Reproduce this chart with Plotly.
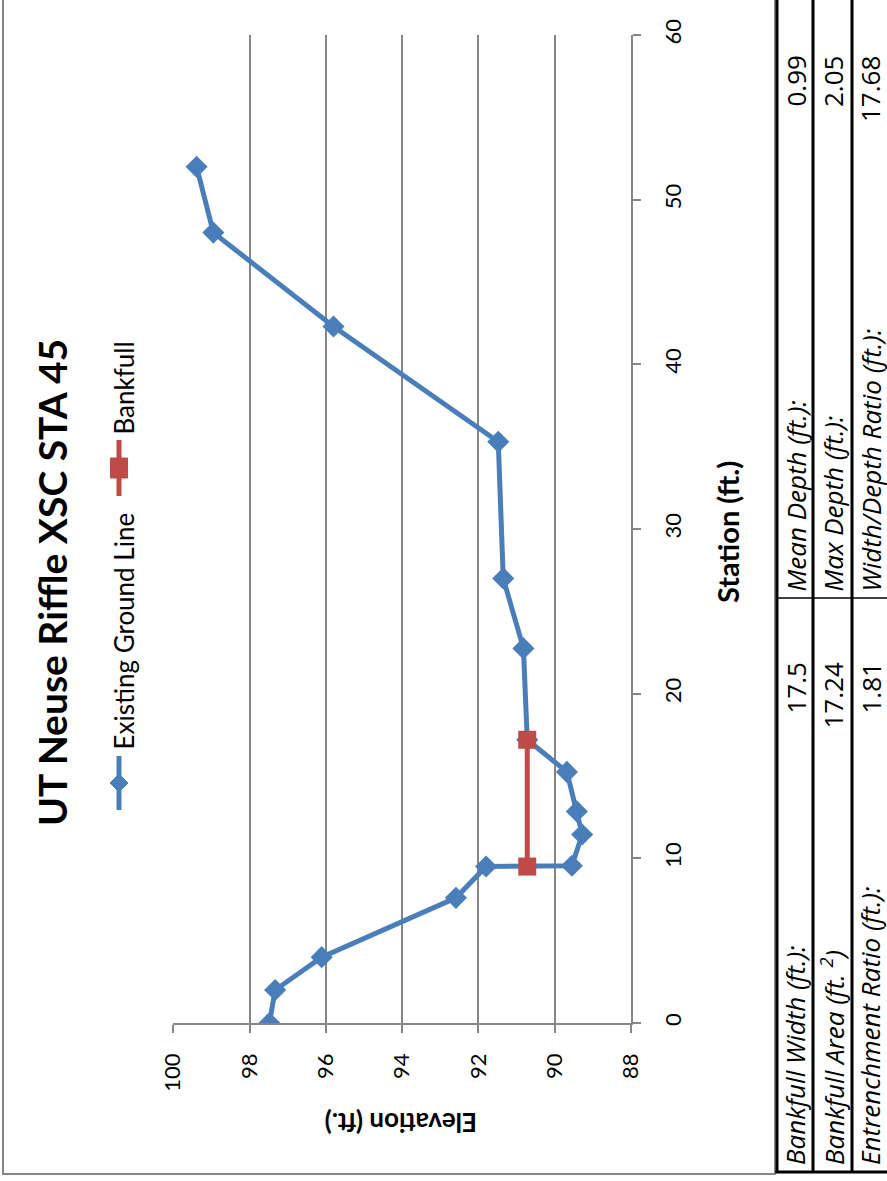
import plotly.graph_objects as go

# ---- data ----
station = [0.0, 2.0, 4.0, 7.6, 9.5, 9.55, 11.45, 12.85, 15.25, 17.2, 22.75, 27.0, 35.3, 42.3, 48.0, 52.0]
elevation = [97.48, 97.33, 96.11, 92.59, 91.80, 89.55, 89.28, 89.42, 89.68, 90.72, 90.82, 91.35, 91.48, 95.80, 98.95, 99.39]
bkf_station = [9.5, 17.2]
bkf_elevation = [90.72, 90.72]
elev_ticks = [100, 98, 96, 94, 92, 90, 88]
station_ticks = [0, 10, 20, 30, 40, 50, 60]
chart_title = "UT Neuse Riffle XSC STA 45"
series_names = ["Existing Ground Line", "Bankfull"]
x_title = "Station (ft.)"
y_title = "Elevation (ft.)"
table_labels_left = ["Bankfull Width (ft.):", "Bankfull Area (ft. <sup>2</sup>)", "Entrenchment Ratio (ft.):"]
table_values_left = ["17.5", "17.24", "1.81"]
table_labels_right = ["Mean Depth (ft.):", "Max Depth (ft.):", "Width/Depth Ratio (ft.):"]
table_values_right = ["0.99", "2.05", "17.68"]

W, H = 887, 1181
BLUE = "#4A7EBB"
RED = "#BE4B48"
GRID = "#868686"
FONT = "Lato"
TFONT = "Open Sans"


def px(x):
    return x / W


def py(y):
    return 1 - y / H


fig = go.Figure()
fig.add_trace(go.Scatter(x=elevation, y=station, mode="lines+markers", name=series_names[0],
                         line=dict(color=BLUE, width=5),
                         marker=dict(symbol="diamond", size=17, color=BLUE)))
fig.add_trace(go.Scatter(x=bkf_elevation, y=bkf_station, mode="lines+markers", name=series_names[1],
                         line=dict(color=RED, width=5),
                         marker=dict(symbol="square", size=18, color=RED)))

fig.update_layout(
    template="none", width=W, height=H, autosize=False,
    margin=dict(l=0, r=0, t=0, b=0),
    paper_bgcolor="white", plot_bgcolor="white", showlegend=False,
    font=dict(family=FONT, color="black"),
    xaxis=dict(domain=[px(173.3), px(631)], range=[100, 88], tickvals=elev_ticks,
               ticks="outside", ticklen=8, tickcolor=GRID, tickwidth=1.5,
               showline=True, linecolor=GRID, linewidth=1.5,
               showgrid=True, gridcolor=GRID, gridwidth=1.5, zeroline=False,
               tickangle=-90, tickfont=dict(family=FONT, size=22, color="black"),
               ticklabelstandoff=12, automargin=False, anchor="y"),
    yaxis=dict(domain=[py(1023), py(35)], range=[0, 60], tickvals=station_ticks, side="right",
               ticks="outside", ticklen=8, tickcolor=GRID, tickwidth=1.5,
               showline=True, linecolor=GRID, linewidth=1.5,
               showgrid=False, zeroline=False,
               tickangle=-90, tickfont=dict(family=FONT, size=22, color="black"),
               ticklabelstandoff=14, automargin=False, anchor="x"),
)

ann = []
shapes = []

# title
ann.append(dict(text="<b>%s</b>" % chart_title, x=px(52), y=py(583), xref="paper", yref="paper",
                textangle=-90, showarrow=False, xanchor="center", yanchor="middle",
                font=dict(family=FONT, size=39, color="black")))
# axis titles
ann.append(dict(text="<b>%s</b>" % x_title, x=px(727), y=py(532), xref="paper", yref="paper",
                textangle=-90, showarrow=False, xanchor="center", yanchor="middle",
                font=dict(family=FONT, size=29, color="black")))
ann.append(dict(text="<b>%s</b>" % y_title, x=px(401), y=py(1123), xref="paper", yref="paper",
                textangle=180, showarrow=False, xanchor="center", yanchor="middle",
                font=dict(family=FONT, size=26, color="black")))

# legend (rotated)
leg = [(series_names[0], BLUE, "diamond", 756, 810, 752), (series_names[1], RED, "square", 440, 496, 437)]
lx = 119
for name, col, sym, y0, y1, tb in leg:
    shapes.append(dict(type="line", xref="paper", yref="paper", x0=px(lx), x1=px(lx), y0=py(y0), y1=py(y1),
                       line=dict(color=col, width=5)))
    cy = (y0 + y1) / 2
    if sym == "diamond":
        r = 9
        path = "M %f,%f L %f,%f L %f,%f L %f,%f Z" % (px(lx), py(cy - r), px(lx + r), py(cy),
                                                     px(lx), py(cy + r), px(lx - r), py(cy))
        shapes.append(dict(type="path", xref="paper", yref="paper", path=path,
                           fillcolor=col, line=dict(color=col, width=1)))
    else:
        shapes.append(dict(type="rect", xref="paper", yref="paper", x0=px(lx - 8.5), x1=px(lx + 8.5),
                           y0=py(cy - 10), y1=py(cy + 10), fillcolor=col, line=dict(color=col, width=1)))
    ann.append(dict(text=name, x=px(123), y=py(tb), xref="paper", yref="paper", textangle=-90,
                    showarrow=False, xanchor="center", yanchor="bottom",
                    font=dict(family=FONT, size=26, color="black")))

# chart area border
shapes.append(dict(type="rect", xref="paper", yref="paper", x0=px(3), x1=px(775), y0=py(1174), y1=py(-10),
                   line=dict(color=GRID, width=2), fillcolor="rgba(0,0,0,0)"))

# table
for xv in [777, 813, 852]:
    shapes.append(dict(type="line", xref="paper", yref="paper", x0=px(xv), x1=px(xv), y0=py(1173), y1=py(-10),
                       line=dict(color="black", width=3)))
shapes.append(dict(type="line", xref="paper", yref="paper", x0=px(775.5), x1=px(895), y0=py(1172), y1=py(1172),
                   line=dict(color="black", width=3)))
shapes.append(dict(type="line", xref="paper", yref="paper", x0=px(777), x1=px(895), y0=py(598), y1=py(598),
                   line=dict(color="black", width=1.5)))

col_x = [795, 832.5, 870]
for i in range(3):
    f = dict(family=TFONT, size=26, color="black")
    ann.append(dict(text="<i>%s</i>" % table_labels_left[i], x=px(col_x[i]), y=py(1167), xref="paper", yref="paper",
                    textangle=-90, showarrow=False, xanchor="center", yanchor="bottom", font=f))
    ann.append(dict(text="<i>%s</i>" % table_labels_right[i], x=px(col_x[i]), y=py(594), xref="paper", yref="paper",
                    textangle=-90, showarrow=False, xanchor="center", yanchor="bottom", font=f))
    ann.append(dict(text=table_values_left[i], x=px(col_x[i]), y=py(661), xref="paper", yref="paper",
                    textangle=-90, showarrow=False, xanchor="center", yanchor="top", font=f))
    ann.append(dict(text=table_values_right[i], x=px(col_x[i]), y=py(54), xref="paper", yref="paper",
                    textangle=-90, showarrow=False, xanchor="center", yanchor="top", font=f))

fig.update_layout(annotations=ann, shapes=shapes)
fig.write_html("out.html", config={"displayModeBar": False},
               post_script="document.body.style.margin='0';document.body.style.overflow='hidden';")
